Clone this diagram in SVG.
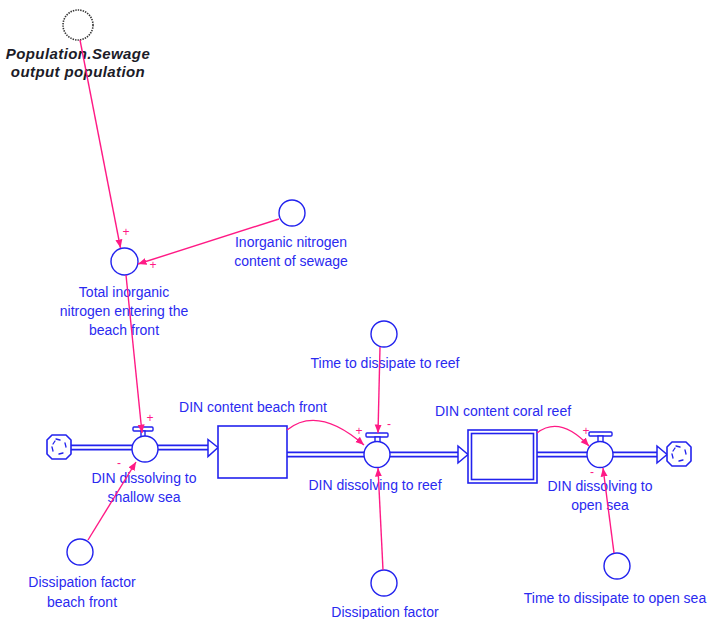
<svg xmlns="http://www.w3.org/2000/svg" width="713" height="619" viewBox="0 0 713 619">
  <style>
    .lbl { font-family: "Liberation Sans", Arial, sans-serif; font-size: 14px; fill: #2a2af0; text-anchor: middle; }
    .ghostlbl { font-family: "Liberation Sans", Arial, sans-serif; font-size: 15px; font-weight: bold; font-style: italic; fill: #1c1c28; text-anchor: middle; letter-spacing: 0.4px; }
    .aux { fill: #ffffff; stroke: #2222ee; stroke-width: 1.4; }
    .stock { fill: #ffffff; stroke: #2222ee; stroke-width: 1.6; }
    .pipe-out { fill: none; stroke: #2222ee; stroke-width: 6; }
    .pipe-in { fill: none; stroke: #ffffff; stroke-width: 2.6; }
    .valvebar { fill: #ffffff; stroke: #2222ee; stroke-width: 1.4; }
    .head { fill: #ffffff; stroke: #2222ee; stroke-width: 1.5; stroke-linejoin: miter; }
    .cloud { fill: #ffffff; stroke: #2222ee; stroke-width: 1.6; }
    .cloudmark { fill: none; stroke: #2222ee; stroke-width: 1.3; stroke-linecap: round; }
    .link { fill: none; stroke: #ff1a85; stroke-width: 1.4; }
    .sign { font-family: "Liberation Sans", Arial, sans-serif; font-size: 12px; fill: #ff1a85; text-anchor: middle; }
  </style>
  <defs>
    <marker id="arrow" markerWidth="9" markerHeight="8" refX="8.5" refY="4" orient="auto" markerUnits="userSpaceOnUse">
      <path d="M0,0.5 L8.5,4 L0,7.5 z" fill="#ff1a85"/>
    </marker>
    <g id="cloudshape">
      <path class="cloud" d="M-7,-12 L7,-12 L12,-7 L12,7 L7,12 L-7,12 L-12,7 L-12,-7 Z" stroke-linejoin="round"/>
      <path class="cloudmark" d="M-3,-8 L1,-7 M6,-4 L7,0 M4,6 L0,7 M-6,4 L-7,0 M-6,-3 L-4,-6"/>
    </g>
  </defs>

  <!-- flow pipes -->
  <g id="pipes">
    <path class="pipe-out" d="M70,447.5 H208"/>
    <path class="pipe-in" d="M70,447.5 H210"/>
    <path class="pipe-out" d="M287,454.5 H459"/>
    <path class="pipe-in" d="M287,454.5 H461"/>
    <path class="pipe-out" d="M537,454.5 H657"/>
    <path class="pipe-in" d="M537,454.5 H659"/>
    <path class="head" d="M208,439.5 L218,447.5 L208,456.5 Z"/>
    <path class="head" d="M458,446 L468,454.5 L458,463 Z"/>
    <path class="head" d="M657,446 L667,454.5 L657,463 Z"/>
  </g>

  <!-- sources and sinks -->
  <g id="cloud_source">
    <use href="#cloudshape" x="59" y="447"/>
  </g>
  <g id="cloud_sink">
    <use href="#cloudshape" x="679" y="454"/>
  </g>

  <!-- stocks -->
  <g id="din_beach_front">
    <rect class="stock" x="218" y="426" width="69" height="52"/>
    <text class="lbl" x="253" y="412">DIN content beach front</text>
  </g>
  <g id="din_coral_reef">
    <rect class="stock" x="468" y="430" width="69" height="53"/>
    <rect class="stock" x="471.5" y="433.5" width="62" height="46"/>
    <text class="lbl" x="503" y="416">DIN content coral reef</text>
  </g>

  <!-- flows -->
  <g id="flow_shallow_sea">
    <rect class="valvebar" x="133" y="427" width="20" height="4" rx="1"/>
    <rect class="valvebar" x="141" y="431" width="4" height="6"/>
    <circle class="aux" cx="145" cy="449" r="13"/>
    <text class="lbl" x="144" y="483">DIN dissolving to</text>
    <text class="lbl" x="144" y="502">shallow sea</text>
  </g>
  <g id="flow_reef">
    <rect class="valvebar" x="366" y="433" width="22" height="4" rx="1"/>
    <rect class="valvebar" x="375" y="437" width="5" height="5"/>
    <circle class="aux" cx="377" cy="454.5" r="13"/>
    <text class="lbl" x="375" y="490">DIN dissolving to reef</text>
  </g>
  <g id="flow_open_sea">
    <rect class="valvebar" x="589" y="432" width="23" height="4" rx="1"/>
    <rect class="valvebar" x="598" y="436" width="5" height="6"/>
    <circle class="aux" cx="600" cy="454.5" r="13"/>
    <text class="lbl" x="600" y="491">DIN dissolving to</text>
    <text class="lbl" x="600" y="510">open sea</text>
  </g>

  <!-- auxiliaries -->
  <g id="population_ghost">
    <circle cx="78" cy="25" r="15" fill="#ffffff" stroke="#333333" stroke-width="1.6" stroke-dasharray="1.4 1.1"/>
    <text class="ghostlbl" x="78" y="59">Population.Sewage</text>
    <text class="ghostlbl" x="78" y="77">output population</text>
  </g>
  <g id="total_inorganic_nitrogen">
    <circle class="aux" cx="124.5" cy="261.5" r="13.5"/>
    <text class="lbl" x="124" y="297">Total inorganic</text>
    <text class="lbl" x="124" y="316">nitrogen entering the</text>
    <text class="lbl" x="124" y="335">beach front</text>
  </g>
  <g id="inorganic_nitrogen_content">
    <circle class="aux" cx="292" cy="213" r="13"/>
    <text class="lbl" x="291" y="247">Inorganic nitrogen</text>
    <text class="lbl" x="291" y="266">content of sewage</text>
  </g>
  <g id="time_to_reef">
    <circle class="aux" cx="384" cy="334" r="13"/>
    <text class="lbl" x="385" y="368">Time to dissipate to reef</text>
  </g>
  <g id="dissipation_beach_front">
    <circle class="aux" cx="80" cy="552" r="13"/>
    <text class="lbl" x="82" y="587">Dissipation factor</text>
    <text class="lbl" x="82" y="607">beach front</text>
  </g>
  <g id="dissipation_factor">
    <circle class="aux" cx="384" cy="583" r="13"/>
    <text class="lbl" x="385" y="617">Dissipation factor</text>
  </g>
  <g id="time_to_open_sea">
    <circle class="aux" cx="617" cy="566" r="13"/>
    <text class="lbl" x="615" y="603">Time to dissipate to open sea</text>
  </g>

  <!-- causal links -->
  <g id="connectors">
    <path class="link" marker-end="url(#arrow)" d="M80,40 L120.5,248"/>
    <path class="link" marker-end="url(#arrow)" d="M279,219 L138,264"/>
    <path class="link" marker-end="url(#arrow)" d="M126,275 L142,433"/>
    <path class="link" marker-end="url(#arrow)" d="M88,540 L136,462"/>
    <path class="link" marker-end="url(#arrow)" d="M287,430 Q318,405 364,445"/>
    <path class="link" marker-end="url(#arrow)" d="M380,347 L378,433"/>
    <path class="link" marker-end="url(#arrow)" d="M383,570 L378,468"/>
    <path class="link" marker-end="url(#arrow)" d="M537,433 Q560,415 589,446"/>
    <path class="link" marker-end="url(#arrow)" d="M614,553 L603,468"/>
    <text class="sign" x="126" y="236">+</text>
    <text class="sign" x="153" y="269">+</text>
    <text class="sign" x="150" y="422">+</text>
    <text class="sign" x="119" y="467">-</text>
    <text class="sign" x="359" y="435">+</text>
    <text class="sign" x="389" y="428">-</text>
    <text class="sign" x="586" y="435">+</text>
    <text class="sign" x="592" y="476">-</text>
  </g>
</svg>
